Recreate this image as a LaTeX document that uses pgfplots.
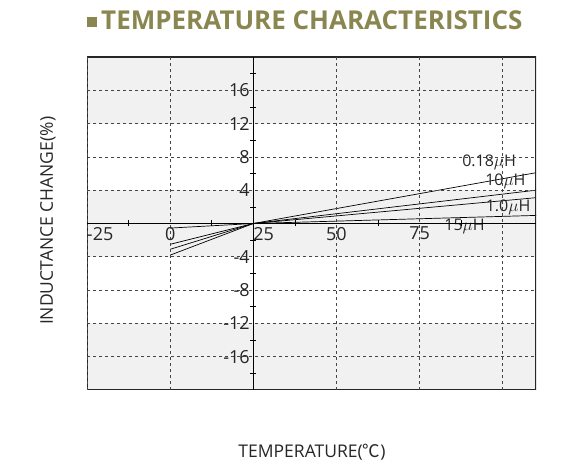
\documentclass[border=0pt]{standalone}
\usepackage{fontspec}
\setmainfont{Open Sans}
\newfontfamily\cjk{Noto Sans CJK KR}
\usepackage{pgfplots}
\usepackage{pgfplotstable}
\pgfplotsset{compat=1.18}
\definecolor{olive}{RGB}{138,134,79}
\definecolor{band}{RGB}{241,241,241}
\definecolor{gridc}{RGB}{70,70,70}

% temperature (C) vs inductance change (%)
\pgfplotstableread{
T    a     b     c     d
0    -3.8  -3.1  -2.5  -0.55
25   0     0     0     0
110  6.1   4.0   3.1   0.97
}\datatable

\begin{document}
\begin{tikzpicture}[x=1pt,y=1pt]
\useasboundingbox (0,0) rectangle (567,465);
\node[anchor=west, text=olive, font=\fontsize{26}{30}\selectfont\bfseries, inner sep=0pt]
  at (87,445) {\rule[2pt]{10pt}{10pt}\hspace{4pt}TEMPERATURE CHARACTERISTICS};
% x axis is shifted by 25 so that the middle axis line sits at 25 C
\begin{axis}[
  axis on top,
  at={(87pt,75pt)}, anchor=south west,
  scale only axis, width=449pt, height=333pt,
  xmin=-50, xmax=85, ymin=-20, ymax=20,
  axis lines=middle,
  axis line style={-, line width=0.8pt, black},
  hide obscured x ticks=false,
  hide obscured y ticks=false,
  xtick={-50,-25,0,25,50,75},
  xticklabels={\hphantom{-25}-25, 0, \hphantom{25}25, 50, 75, {}},
  ytick={-16,-12,-8,-4,4,8,12,16},
  yticklabels={-16,-12,-8,-4,4,8,12,16},
  minor xtick={-37.5,-12.5,12.5,37.5,62.5},
  minor ytick={-18,-14,-10,-6,-2,2,6,10,14,18},
  major tick length=0pt,
  minor tick length=6pt,
  tick align=center,
  tick style={black, line width=0.6pt},
  grid=major,
  major grid style={gridc, line width=0.7pt, dash pattern=on 3pt off 3pt},
  tick label style={font=\fontsize{18}{21}\selectfont, text=black!85},
  xlabel={TEMPERATURE({\cjk ℃})},
  ylabel={INDUCTANCE CHANGE(\%)},
  label style={font=\fontsize{17.5}{20}\selectfont, text=black!85},
  xlabel style={at={(axis description cs:0.501,-0.186)}, anchor=center},
  ylabel style={at={(axis description cs:-0.087,0.508)}, anchor=center, rotate=90},
]
\fill[band] (rel axis cs:0,0) rectangle (rel axis cs:1,0.2);
\fill[band] (rel axis cs:0,0.4) rectangle (rel axis cs:1,0.6);
\fill[band] (rel axis cs:0,0.8) rectangle (rel axis cs:1,1);

\addplot[black, line width=0.7pt] table[x expr=\thisrow{T}-25, y=a] {\datatable}; % 0.18uH
\addplot[black, line width=0.7pt] table[x expr=\thisrow{T}-25, y=b] {\datatable}; % 10uH
\addplot[black, line width=0.7pt] table[x expr=\thisrow{T}-25, y=c] {\datatable}; % 1.0uH
\addplot[black, line width=0.7pt] table[x expr=\thisrow{T}-25, y=d] {\datatable}; % 15uH

\begin{scope}[every node/.style={font=\fontsize{16}{19}\selectfont, text=black!85, inner sep=0pt}]
\node at (axis cs:70.9,7.4) {0.18$\mu$H};
\node at (axis cs:75.8,5.0) {10$\mu$H};
\node at (axis cs:76.6,1.94) {1.0$\mu$H};
\node at (axis cs:63.5,-0.36) {15$\mu$H};
\end{scope}

\draw[line width=1.6pt, black!85] (rel axis cs:0,0) rectangle (rel axis cs:1,1);
\end{axis}
\end{tikzpicture}
\end{document}
